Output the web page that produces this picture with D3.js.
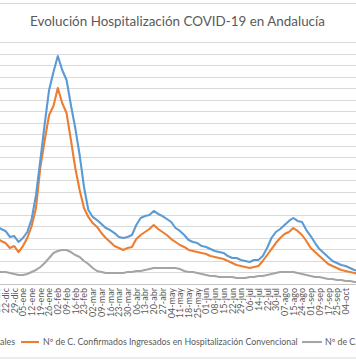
<!DOCTYPE html>
<html>
<head>
<meta charset="utf-8">
<script src="https://cdn.jsdelivr.net/npm/d3@7"></script>
<style>
  html, body { margin: 0; padding: 0; background: #fff; overflow: hidden; }
  svg { display: block; font-family: Lato, "Open Sans", sans-serif; }
</style>
</head>
<body>
<svg id="chart" width="356" height="364"></svg>
<script>
// ---- Data ----
const title = "Evolución Hospitalización COVID-19 en Andalucía";

// weekly category labels (first one is 15-dic, partially cut off)
const weekLabels = ["15-dic","22-dic","29-dic","05-ene","12-ene","19-ene","26-ene","02-feb","09-feb","16-feb","23-feb",
  "02-mar","09-mar","16-mar","23-mar","30-mar","06-abr","13-abr","20-abr","27-abr","04-may","11-may","18-may","25-may",
  "01-jun","08-jun","15-jun","22-jun","29-jun","06-jul","14-jul","22-jul","30-jul","07-ago","15-ago","24-ago",
  "01-sep","09-sep","17-sep","25-sep","04-oct"];

// series sampled twice per week, starting at "15-dic"
const seriesNames = [
  "Nº de C. Confirmados Hospitalizados Totales",
  "Nº de C. Confirmados Ingresados en Hospitalización Convencional",
  "Nº de C. Confirmados Ingresados en UCI"
];
const totales = [1258,1193,1150,1020,1041,911,998,1128,1410,1931,2690,3480,4209,4599,4946,4643,4426,3883,3384,2799,
  2104,1605,1454,1388,1302,1215,1171,1106,1020,998,1020,1063,1280,1432,1475,1497,1584,1519,1475,1410,
  1345,1215,1150,1063,955,911,889,824,803,759,716,694,673,607,564,564,521,499,477,521,
  521,607,781,998,1128,1193,1280,1367,1432,1367,1345,1171,1041,889,759,673,586,499,456,412,
  390,347,304,282];
const convencional = [998,933,889,781,824,694,824,998,1258,1649,2538,3124,3666,3862,4252,3927,3710,3124,2516,2039,
  1649,1454,1323,1237,1106,998,911,824,781,738,781,803,976,1063,1128,1193,1280,1193,1128,1063,
  976,911,846,803,738,716,694,673,651,607,586,564,542,499,456,412,390,369,347,369,
  390,499,629,759,889,998,1085,1128,1215,1150,1063,933,781,694,607,521,434,390,347,304,
  282,260,239,217];
const uci = [260,260,260,239,217,195,195,217,260,304,369,456,564,673,716,738,738,694,629,586,
  499,434,347,282,260,239,239,239,239,239,260,260,282,282,304,325,347,347,347,347,
  347,347,325,282,260,260,239,217,195,174,174,152,152,152,152,130,130,130,152,152,
  174,174,195,217,239,260,260,260,260,239,217,195,174,152,152,130,108,108,87,87,
  65,65,43,43];
const seriesColors = ["#5b9bd5", "#ed7d31", "#a5a5a5"];
const yMax = 5250, yStep = 250;

// ---- Layout ----
const W = 356, H = 364;
const plotTop = 42, plotBottom = 284;
const svg = d3.select("#chart");

// chart border (left/right sides are outside the picture)
svg.append("rect").attr("x", -5).attr("y", 3.5).attr("width", W + 10).attr("height", 354.5)
  .attr("fill", "none").attr("stroke", "#d9d9d9").attr("stroke-width", 1);

// scales: x in weeks (index into weekLabels, 22-dic = 1)
const x = d3.scaleLinear().domain([1, 40]).range([5.5, 345.6]);
const y = d3.scaleLinear().domain([0, yMax]).range([plotBottom, plotTop]);

// gridlines
const gridVals = d3.range(yStep, yMax + 1, yStep);
svg.append("g").selectAll("line").data(gridVals).join("line")
  .attr("x1", 0).attr("x2", W)
  .attr("y1", d => Math.round(y(d)) + 0.5).attr("y2", d => Math.round(y(d)) + 0.5)
  .attr("stroke", "#dadada").attr("stroke-width", 1);

// baseline axis
svg.append("line").attr("x1", 0).attr("x2", W)
  .attr("y1", Math.round(y(0)) + 0.5).attr("y2", Math.round(y(0)) + 0.5)
  .attr("stroke", "#c4c4c4").attr("stroke-width", 1);

// x labels
const xAxis = d3.axisBottom(x).tickValues(d3.range(weekLabels.length)).tickFormat(i => weekLabels[i]).tickSize(0);
const gx = svg.append("g").attr("transform", `translate(0,${plotBottom + 4})`).call(xAxis);
gx.select(".domain").remove();
gx.selectAll("text")
  .attr("fill", "#595959").attr("font-size", "9px").attr("font-family", "Lato, 'Open Sans', sans-serif")
  .attr("text-anchor", "end").attr("dy", "0.32em").attr("y", 0).attr("x", 0)
  .attr("transform", "rotate(-90)");

// lines
const allSeries = [totales, convencional, uci];
const line = d3.line().x((d, i) => x(i * 0.5)).y(d => y(d));
const drawOrder = [2, 1, 0];
drawOrder.forEach(k => {
  svg.append("path").datum(allSeries[k])
    .attr("fill", "none").attr("stroke", seriesColors[k]).attr("stroke-width", 2.1)
    .attr("stroke-linejoin", "round").attr("stroke-linecap", "round")
    .attr("d", line);
});

// title
const t = svg.append("text").text(title)
  .attr("x", 177.5).attr("y", 26).attr("text-anchor", "middle")
  .attr("fill", "#595959").attr("font-size", 13);
const tw = t.node().getComputedTextLength();
t.attr("font-size", 13 * 295 / tw);

// legend
const legY = 342;
const lg = svg.append("g");
const lt2 = lg.append("text").text(seriesNames[1]).attr("x", 43).attr("y", legY).attr("dy", "0.35em")
  .attr("fill", "#595959").attr("font-size", 9);
const lw = lt2.node().getComputedTextLength();
const legFont = 9 * 255 / lw;
lt2.attr("font-size", legFont);
lg.append("text").text(seriesNames[0]).attr("x", 15).attr("y", legY).attr("dy", "0.35em")
  .attr("text-anchor", "end").attr("fill", "#595959").attr("font-size", legFont);
lg.append("text").text(seriesNames[2]).attr("x", 325).attr("y", legY).attr("dy", "0.35em")
  .attr("fill", "#595959").attr("font-size", legFont);
// legend samples
const samples = [
  {k: 1, x1: 21, x2: 39},
  {k: 2, x1: 302, x2: 322}
];
samples.forEach(s => {
  lg.append("line").attr("x1", s.x1).attr("x2", s.x2).attr("y1", legY).attr("y2", legY)
    .attr("stroke", seriesColors[s.k]).attr("stroke-width", 2.1);
});
</script>
</body>
</html>
